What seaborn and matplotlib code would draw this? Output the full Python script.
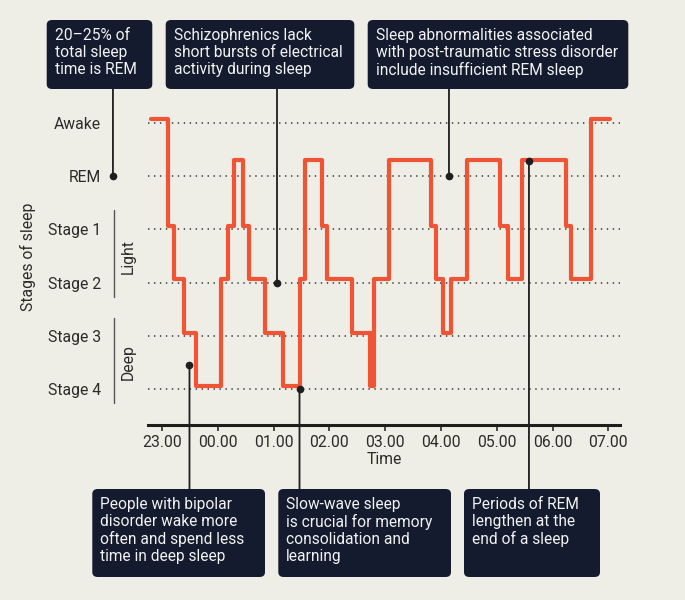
import matplotlib
matplotlib.use("Agg")
import matplotlib.pyplot as plt
import matplotlib.transforms as mtransforms
from matplotlib.patches import FancyBboxPatch
import pandas as pd
import seaborn as sns

# hypnogram: minutes after 23.00 where each stage starts
times = [-12, 6, 13, 24, 37, 64, 71, 77, 87, 94, 111, 130, 148, 154, 172, 178,
         204, 224, 225.5, 227, 228.5, 244, 289, 295, 302, 311, 328, 363, 372,
         387, 434, 440, 461, 482]
stages = ["Awake", "Stage 1", "Stage 2", "Stage 3", "Stage 4", "Stage 2",
          "Stage 1", "REM", "Stage 1", "Stage 2", "Stage 3", "Stage 4",
          "Stage 2", "REM", "Stage 1", "Stage 2", "Stage 3", "Stage 4",
          "Stage 3", "Stage 4", "Stage 2", "REM", "Stage 1", "Stage 2",
          "Stage 3", "Stage 2", "REM", "Stage 1", "Stage 2", "REM", "Stage 1",
          "Stage 2", "Awake", "Awake"]

stage_names = ["Stage 4", "Stage 3", "Stage 2", "Stage 1", "REM", "Awake"]
stage_levels = [0, 1, 2, 3, 4, 5]
# the trace sits slightly above the guide lines, REM bars noticeably so
trace_levels = [0.06, 1.05, 2.06, 3.06, 4.30, 5.08]

tick_minutes = [0, 60, 120, 180, 240, 300, 360, 420, 480]
tick_labels = ["23.00", "00.00", "01.00", "02.00", "03.00", "04.00",
               "05.00", "06.00", "07.00"]

notes_top = ["20\u201325% of\ntotal sleep\ntime is REM",
             "Schizophrenics lack\nshort bursts of electrical\nactivity during sleep",
             "Sleep abnormalities associated\nwith post-traumatic stress disorder\ninclude insufficient REM sleep"]
notes_bottom = ["People with bipolar\ndisorder wake more\noften and spend less\ntime in deep sleep",
                "Slow-wave sleep\nis crucial for memory\nconsolidation and\nlearning",
                "Periods of REM\nlengthen at the\nend of a sleep"]
# point each note refers to (minute, level)
top_targets = [(-52.7, 4.0), (123.7, 2.0), (308.6, 4.0)]
bottom_targets = [(29.6, 0.45), (147.9, 0.0), (394.6, 4.28)]

BG = "#eeede6"
BOX = "#151b2f"
ORANGE = "#ef5535"
INK = "#2b2b2b"
W, H = 685, 600
FS = 11.3

sns.set_theme(style="white")
plt.rcParams["font.family"] = ["Roboto", "DejaVu Sans"]

df = pd.DataFrame({"minute": times, "stage": stages})
df["height"] = df["stage"].map(dict(zip(stage_names, trace_levels)))

fig = plt.figure(figsize=(W / 100, H / 100), dpi=100, facecolor=BG)
ax = fig.add_axes([148 / W, 1 - 425 / H, (620 - 148) / W, (425 - 100) / H])
ax.set_facecolor(BG)
ax.set_xlim(-15, 492.5)
ax.set_ylim(-0.677, 5.43)

for lvl in stage_levels:
    ax.axhline(lvl, color="#333333", lw=1.1, ls=(0, (0.9, 3.0)), zorder=1)

sns.lineplot(data=df, x="minute", y="height", drawstyle="steps-post",
             color=ORANGE, lw=3.0, ax=ax, zorder=3, estimator=None, sort=False)

ax.set_yticks(stage_levels)
ax.set_yticklabels(stage_names)
ax.set_xticks(tick_minutes)
ax.set_xticklabels(tick_labels)
ax.tick_params(axis="y", length=0, pad=34, labelsize=FS, labelcolor=INK)
ax.tick_params(axis="x", length=4, width=1.2, color=INK, direction="out",
               pad=3, labelsize=FS, labelcolor=INK, bottom=True)
ax.set_xlabel("Time", fontsize=FS, color=INK, labelpad=2)
ax.set_ylabel("")
for side in ["left", "right", "top"]:
    ax.spines[side].set_visible(False)
ax.spines["bottom"].set_color("#1e1e1e")
ax.spines["bottom"].set_linewidth(2.2)

fig.text(28 / W, 1 - 257 / H, "Stages of sleep", rotation=90, ha="center",
         va="center", fontsize=FS, color=INK)
fig.text(128 / W, 1 - 257 / H, "Light", rotation=90, ha="center",
         va="center", fontsize=FS, color=INK)
fig.text(128 / W, 1 - 362 / H, "Deep", rotation=90, ha="center",
         va="center", fontsize=FS, color=INK)
ax.plot([-51.6, -51.6], [3.36, 1.73], color="#555555", lw=1.0, clip_on=False)
ax.plot([-51.6, -51.6], [1.33, -0.26], color="#555555", lw=1.0, clip_on=False)


def note_box(x0, x1, y0, y1, text):
    patch = FancyBboxPatch((x0 / W, 1 - y1 / H), (x1 - x0) / W, (y1 - y0) / H,
                           boxstyle="round,pad=0,rounding_size=0.008",
                           transform=fig.transFigure, facecolor=BOX,
                           edgecolor="none", zorder=10)
    fig.patches.append(patch)
    fig.text((x0 + 8) / W, 1 - (y0 + 8) / H, text, ha="left", va="top",
             fontsize=11.2, color="#f2f2f2", linespacing=1.17, zorder=11)


top_boxes = [(46.7, 152.3), (165.7, 354.3), (367.7, 628.3)]
bottom_boxes = [(92.3, 265), (278.3, 451), (464, 600)]
for (x0, x1), text in zip(top_boxes, notes_top):
    note_box(x0, x1, 20, 89, text)
for (x0, x1), text in zip(bottom_boxes, notes_bottom):
    note_box(x0, x1, 489, 577, text)

blend = mtransforms.blended_transform_factory(ax.transData, fig.transFigure)
leader = dict(arrowstyle="-", lw=1.3, color="#1e1e1e", shrinkA=0, shrinkB=0)
for (t, lvl) in top_targets:
    ax.annotate("", xy=(t, lvl), xytext=(t, 1 - 89 / H), textcoords=blend,
                arrowprops=leader, annotation_clip=False)
    ax.plot(t, lvl, "o", ms=4.5, color="#1e1e1e", clip_on=False, zorder=6)
for (t, lvl) in bottom_targets:
    ax.annotate("", xy=(t, lvl), xytext=(t, 1 - 489 / H), textcoords=blend,
                arrowprops=leader, annotation_clip=False)
    ax.plot(t, lvl, "o", ms=4.5, color="#1e1e1e", clip_on=False, zorder=6)

fig.savefig("out.png", dpi=100, facecolor=BG)
